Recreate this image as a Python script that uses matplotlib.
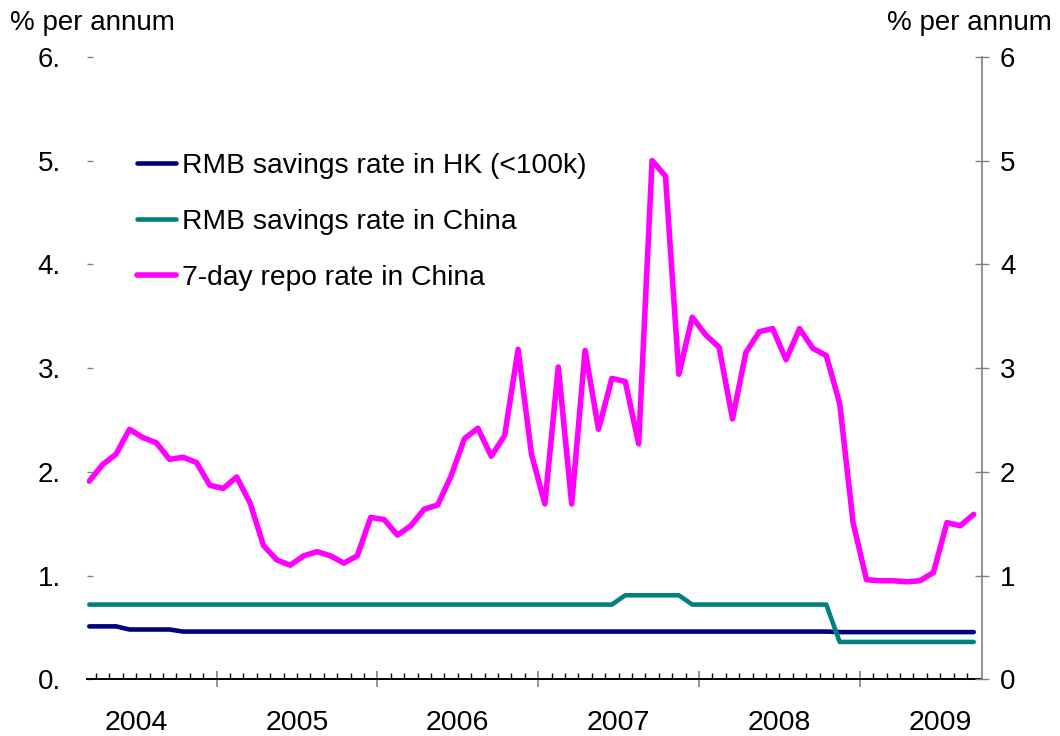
import matplotlib

matplotlib.use("Agg")
import matplotlib.pyplot as plt
import matplotlib.transforms as mtransforms
import numpy as np
import pandas as pd

# monthly observations, Mar 2004 - Sep 2009
months = pd.period_range("2004-03", "2009-09", freq="M")

hk_savings = [
    0.51, 0.51, 0.51, 0.48, 0.48, 0.48, 0.48, 0.46, 0.46, 0.46,
    0.46, 0.46, 0.46, 0.46, 0.46, 0.46, 0.46, 0.46, 0.46, 0.46,
    0.46, 0.46, 0.46, 0.46, 0.46, 0.46, 0.46, 0.46, 0.46, 0.46,
    0.46, 0.46, 0.46, 0.46, 0.46, 0.46, 0.46, 0.46, 0.46, 0.46,
    0.46, 0.46, 0.46, 0.46, 0.46, 0.46, 0.46, 0.46, 0.46, 0.46,
    0.46, 0.46, 0.46, 0.46, 0.46, 0.46, 0.455, 0.455, 0.455, 0.455,
    0.455, 0.455, 0.455, 0.455, 0.455, 0.455, 0.455,
]
china_savings = [
    0.72, 0.72, 0.72, 0.72, 0.72, 0.72, 0.72, 0.72, 0.72, 0.72,
    0.72, 0.72, 0.72, 0.72, 0.72, 0.72, 0.72, 0.72, 0.72, 0.72,
    0.72, 0.72, 0.72, 0.72, 0.72, 0.72, 0.72, 0.72, 0.72, 0.72,
    0.72, 0.72, 0.72, 0.72, 0.72, 0.72, 0.72, 0.72, 0.72, 0.72,
    0.81, 0.81, 0.81, 0.81, 0.81, 0.72, 0.72, 0.72, 0.72, 0.72,
    0.72, 0.72, 0.72, 0.72, 0.72, 0.72, 0.36, 0.36, 0.36, 0.36,
    0.36, 0.36, 0.36, 0.36, 0.36, 0.36, 0.36,
]
repo_7day = [
    1.91, 2.07, 2.17, 2.41, 2.33, 2.28, 2.12, 2.14, 2.09, 1.87,
    1.84, 1.95, 1.70, 1.29, 1.15, 1.10, 1.19, 1.23, 1.19, 1.12,
    1.19, 1.56, 1.54, 1.39, 1.48, 1.64, 1.68, 1.96, 2.32, 2.42,
    2.15, 2.35, 3.18, 2.17, 1.69, 3.01, 1.69, 3.17, 2.41, 2.90,
    2.87, 2.27, 5.00, 4.85, 2.94, 3.49, 3.32, 3.20, 2.51, 3.15,
    3.35, 3.38, 3.08, 3.38, 3.19, 3.12, 2.66, 1.51, 0.96, 0.95,
    0.95, 0.94, 0.95, 1.03, 1.51, 1.48, 1.59,
]

series_labels = [
    "RMB savings rate in HK (<100k)",
    "RMB savings rate in China",
    "7-day repo rate in China",
]
series_colors = ["#000080", "#008080", "#FF00FF"]
years = [2004, 2005, 2006, 2007, 2008, 2009]
y_ticks = [0, 1, 2, 3, 4, 5, 6]
left_tick_labels = ["0.", "1.", "2.", "3.", "4.", "5.", "6."]
right_tick_labels = ["0", "1", "2", "3", "4", "5", "6"]

plt.rcParams["font.family"] = ["Liberation Sans", "DejaVu Sans"]
plt.rcParams["font.size"] = 20

W, H = 1060, 736
fig = plt.figure(figsize=(W / 100, H / 100), dpi=100)
ax_l, ax_r, ax_b, ax_t = 87, 982, 679.3, 56.8
ax = fig.add_axes([ax_l / W, 1 - ax_b / H, (ax_r - ax_l) / W, (ax_b - ax_t) / H])

x = np.arange(len(months))
ax.plot(x, hk_savings, color=series_colors[0], lw=3.3, label=series_labels[0],
        solid_capstyle="round", solid_joinstyle="round")
ax.plot(x, china_savings, color=series_colors[1], lw=3.3, label=series_labels[1],
        solid_capstyle="round", solid_joinstyle="round")
ax.plot(x, repo_7day, color=series_colors[2], lw=4.0, label=series_labels[2],
        solid_capstyle="round", solid_joinstyle="round")

ax.set_xlim(-0.17, 66.62)
ax.set_ylim(0, 6)

# x axis: year boundaries as major ticks, months as minor ticks
year_starts = [i - 0.5 for i, m in enumerate(months) if m.month == 1]
ax.set_xticks(year_starts)
ax.set_xticks(x[:-1] + 0.5, minor=True)
ax.tick_params(axis="x", which="major", direction="inout", length=12, width=1.2,
               color="#808080", labelbottom=False)
ax.tick_params(axis="x", which="minor", direction="in", length=4.5, width=1.0,
               color="black")
ax.spines["bottom"].set_linewidth(1.4)
ax.spines["bottom"].set_color("black")

blend = mtransforms.blended_transform_factory(ax.transData, ax.transAxes)
for yr in years:
    first = (yr - 2004) * 12 - 2  # index of January of that year
    ax.text(first - 0.5 + 6, -0.070, str(yr), transform=blend,
            ha="center", va="center", fontsize=20.5)

# left axis
ax.spines["left"].set_visible(False)
ax.spines["top"].set_visible(False)
ax.spines["right"].set_visible(False)
ax.set_yticks(y_ticks, left_tick_labels)
ax.tick_params(axis="y", direction="in", length=4, width=1.0, color="#808080", pad=19)

# right axis with the same scale
axr = ax.twinx()
axr.set_ylim(0, 6)
axr.set_yticks(y_ticks, right_tick_labels)
axr.tick_params(axis="y", direction="inout", length=10, width=1.0, color="#808080", pad=8)
for side in ["left", "top", "bottom"]:
    axr.spines[side].set_visible(False)
axr.spines["right"].set_color("#808080")
axr.spines["right"].set_linewidth(1.2)

fig.text(10 / W, 1 - 23 / H, "% per annum", ha="left", va="center")
fig.text(1052 / W, 1 - 23 / H, "% per annum", ha="right", va="center")

ax.legend(loc="upper left", bbox_to_anchor=(137 / W, 1 - 153 / H),
          bbox_transform=fig.transFigure, frameon=False, borderpad=0,
          borderaxespad=0, handlelength=1.37, handletextpad=0.22,
          labelspacing=1.07, fontsize=20.3)

fig.savefig("out.png", dpi=100)
